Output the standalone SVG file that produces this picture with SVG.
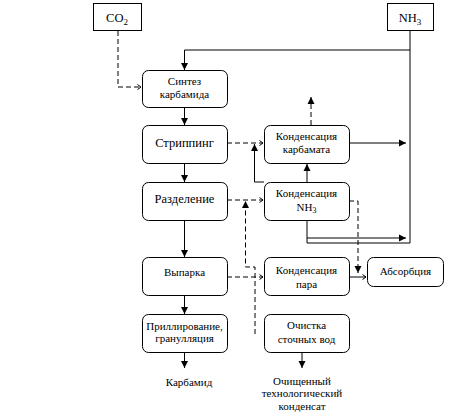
<svg xmlns="http://www.w3.org/2000/svg" width="453" height="420" viewBox="0 0 453 420">
<defs>
<marker id="arr" markerUnits="userSpaceOnUse" markerWidth="8" markerHeight="8" refX="7" refY="4" orient="auto">
<path d="M0,0.5 L7,4 L0,7.5 z" fill="#000"/>
</marker>
<marker id="open" markerUnits="userSpaceOnUse" markerWidth="6" markerHeight="8" refX="4" refY="3.5" orient="auto">
<path d="M0.5,1 L4,3.5 L0.5,6" fill="none" stroke="#000" stroke-width="1"/>
</marker>
</defs>
<style>
.box{fill:#fff;stroke:#000;stroke-width:1}
.c{fill:none;stroke:#000;stroke-width:1}
.d{fill:none;stroke:#000;stroke-width:1;stroke-dasharray:5,3}
.a{marker-end:url(#arr)}
.o{marker-end:url(#open)}
</style>
<rect width="453" height="420" fill="#fff"/>
<g id="connectors">
<path class="c a" d="M410,50 H184.5 V70"/>
<path class="c a" d="M410,31 V243 H307 V164"/>
<path class="d o" d="M118,31 V87 H141"/>
<path class="c a" d="M184.5,107 V125"/>
<path class="c a" d="M184.5,163 V182"/>
<path class="c a" d="M184.5,220 V257"/>
<path class="c a" d="M184.5,295 V314"/>
<path class="c a" d="M184.5,352 V368"/>
<path class="d o" d="M227,143 H263"/>
<path class="c a" d="M264,182 H254.5 V144"/>
<path class="d o" d="M227,200 H263"/>
<path class="d a" d="M255,334 V267 H245.5 V201"/>
<path class="d o" d="M227,277 H263"/>
<path class="d a" d="M311,125 V97"/>
<path class="c a" d="M349,143 H406"/>
<path class="c a" d="M307,238 H406"/>
<path class="d a" d="M349,201 H358 V273"/>
<path class="c o" d="M349,277 H366"/>
<path class="c a" d="M302,352 V368"/>
</g>
<g font-family="Liberation Serif, Times New Roman, serif" font-size="11" text-anchor="middle" fill="#000">
<g id="co2">
<rect class="box" x="93.5" y="3.5" width="48" height="27"/>
<text x="117" y="22" font-size="12.5">CO<tspan font-size="9" dy="3">2</tspan></text>
</g>
<g id="nh3">
<rect class="box" x="387.5" y="3.5" width="46" height="27"/>
<text x="410" y="22" font-size="12.5">NH<tspan font-size="9" dy="3">3</tspan></text>
</g>
<g id="sintez">
<rect class="box" x="142.5" y="70.5" width="85" height="37" rx="6"/>
<text x="184.5" y="85">Синтез</text>
<text x="184.5" y="98">карбамида</text>
</g>
<g id="stripping">
<rect class="box" x="142.5" y="125.5" width="85" height="38" rx="6"/>
<text x="184.5" y="147" font-size="12.5">Стриппинг</text>
</g>
<g id="razdelenie">
<rect class="box" x="142.5" y="182.5" width="85" height="38" rx="6"/>
<text x="184.5" y="203" font-size="12.5">Разделение</text>
</g>
<g id="vyparka">
<rect class="box" x="142.5" y="257.5" width="85" height="38" rx="6"/>
<text x="184.5" y="276">Выпарка</text>
</g>
<g id="prilling">
<rect class="box" x="142.5" y="314.5" width="85" height="38" rx="6"/>
<text x="184.5" y="330">Приллирование,</text>
<text x="184.5" y="342">гранулляция</text>
</g>
<g id="karbamid">
<text x="189" y="386">Карбамид</text>
</g>
<g id="kond-karbamata">
<rect class="box" x="264.5" y="125.5" width="85" height="38" rx="6"/>
<text x="306.5" y="140">Конденсация</text>
<text x="306.5" y="153">карбамата</text>
</g>
<g id="kond-nh3">
<rect class="box" x="264.5" y="182.5" width="85" height="38" rx="6"/>
<text x="306.5" y="197">Конденсация</text>
<text x="306.5" y="211">NH<tspan font-size="8" dy="2">3</tspan></text>
</g>
<g id="kond-para">
<rect class="box" x="264.5" y="257.5" width="85" height="38" rx="6"/>
<text x="306.5" y="274">Конденсация</text>
<text x="306.5" y="288">пара</text>
</g>
<g id="absorbciya">
<rect class="box" x="367.5" y="257.5" width="76" height="29" rx="6"/>
<text x="405.5" y="275">Абсорбция</text>
</g>
<g id="ochistka">
<rect class="box" x="264.5" y="314.5" width="85" height="38" rx="6"/>
<text x="306.5" y="329">Очистка</text>
<text x="306.5" y="343">сточных вод</text>
</g>
<g id="kondensat">
<text x="302" y="385">Очищенный</text>
<text x="302" y="397">технологический</text>
<text x="302" y="410">конденсат</text>
</g>
</g>
</svg>
